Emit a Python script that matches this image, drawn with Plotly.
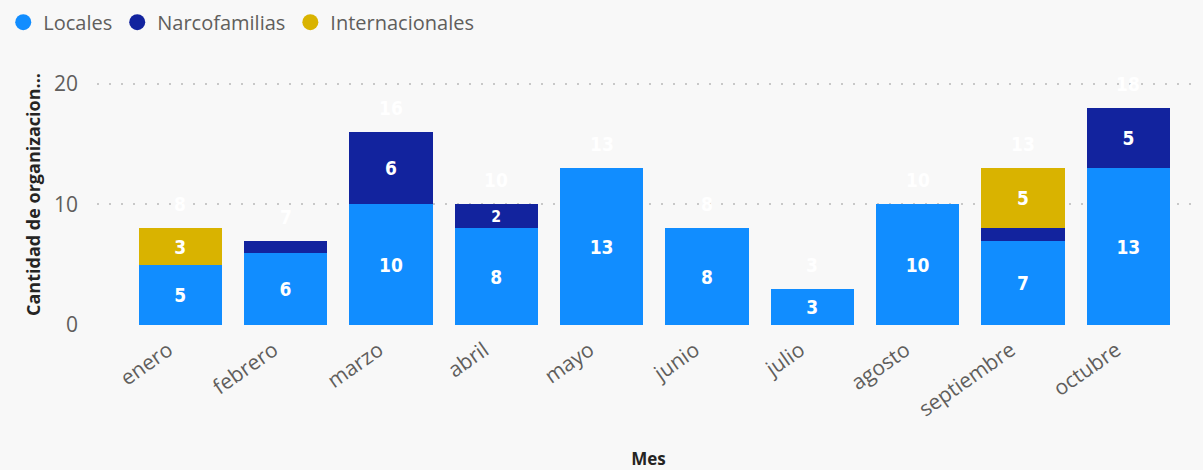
import plotly.graph_objects as go

meses=["enero","febrero","marzo","abril","mayo","junio","julio","agosto","septiembre","octubre"]
locales=[5,6,10,8,13,8,3,10,7,13]
narcofamilias=[None,1,6,2,None,None,None,None,1,5]
internacionales=[3,None,None,None,None,None,None,None,5,None]

C_LOC="#118DFF";C_NAR="#12239E";C_INT="#D9B300";C_BG="#F8F8F8"
LBL_FONT=dict(family="DejaVu Sans Condensed",size=19,color="white",weight="bold")

def _lbl(vals):
    return [str(v) if v is not None and v>=2 else "" for v in vals]

fig=go.Figure()
for name,vals,col in [("Locales",locales,C_LOC),("Narcofamilias",narcofamilias,C_NAR),("Internacionales",internacionales,C_INT)]:
    fig.add_trace(go.Bar(x=meses,y=vals,name=name,marker_color=col,marker_line_width=0,
        text=_lbl(vals),textposition="inside",insidetextanchor="middle",textangle=0,
        textfont=LBL_FONT,showlegend=False))
    fig.add_trace(go.Scatter(x=[None],y=[None],mode="markers",name=name,
        marker=dict(color=col,size=21,symbol="circle")))

totales=[sum(v or 0 for v in t) for t in zip(locales,narcofamilias,internacionales)]
for m,t in zip(meses,totales):
    fig.add_annotation(x=m,y=t,text=str(t),showarrow=False,yshift=24,font=LBL_FONT)

fig.update_layout(
    barmode="stack",bargap=0.21,
    paper_bgcolor=C_BG,plot_bgcolor=C_BG,
    width=1203,height=470,
    margin=dict(l=96,r=3,t=60,b=145),
    font=dict(family="Open Sans",color="#605E5C"),
    legend=dict(orientation="h",x=-0.085,y=1.235,xanchor="left",yanchor="top",traceorder="normal",
        font=dict(size=20,color="#605E5C"),itemwidth=30,tracegroupgap=0,
        bgcolor="rgba(0,0,0,0)"),
    xaxis=dict(range=[-0.79,9.68],tickangle=-35,tickfont=dict(size=21,color="#605E5C"),
        showgrid=False,zeroline=False,showline=False,ticks="",automargin=False,
        ticklabelshift=-12,ticklabelstandoff=8,
        title=dict(text="<b>Mes</b>",font=dict(size=17,color="#252423"),standoff=38)),
    yaxis=dict(range=[0,21.63],tickvals=[0,10,20],tickfont=dict(size=21,color="#605E5C"),
        showgrid=True,gridcolor="#C8C8C8",griddash="2px,10px",gridwidth=2,zeroline=False,
        showline=False,ticks="",ticklabelstandoff=18,automargin=False,
        title=dict(text="<b>Cantidad de organizacion...</b>",font=dict(size=18,color="#252423"),standoff=8)),
)
fig.write_html("out.html",config={"displayModeBar":False},post_script="document.body.style.margin='0';")
